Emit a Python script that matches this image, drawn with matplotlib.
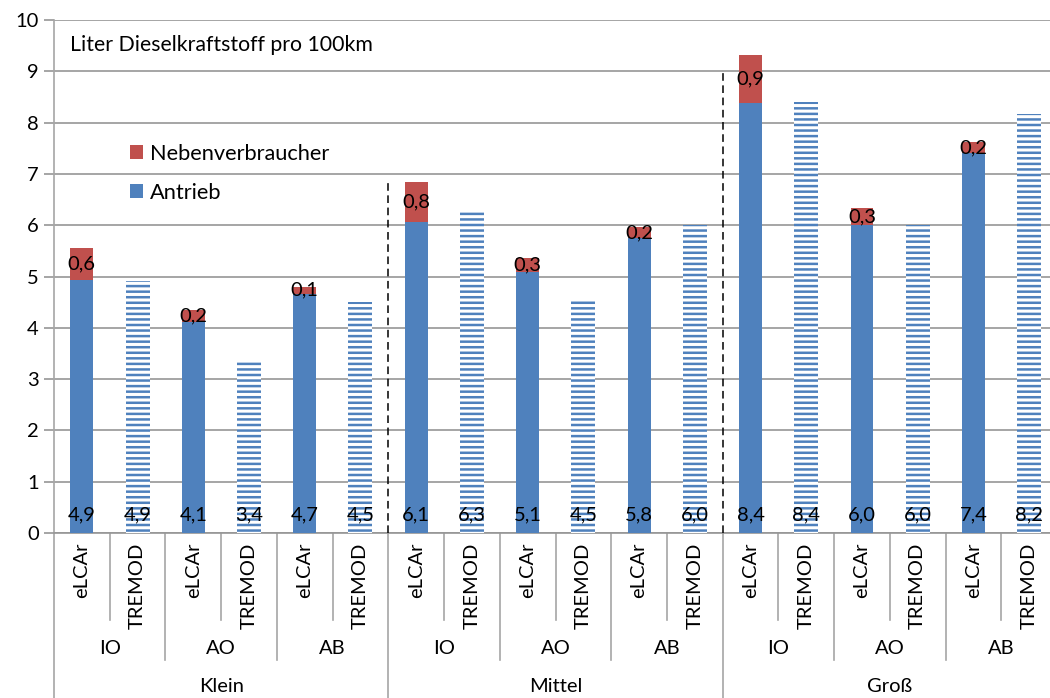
import matplotlib
matplotlib.use("Agg")
import matplotlib.pyplot as plt
from matplotlib.patches import Patch
from matplotlib.transforms import blended_transform_factory
import numpy as np

# ---- data ----
sizes = ['Klein', 'Mittel', 'Groß']
routes = ['IO', 'AO', 'AB']
models = ['eLCAr', 'TREMOD']
elcar_antrieb = [4.93, 4.11, 4.66, 6.06, 5.09, 5.76, 8.38, 6.00, 7.41]
elcar_neben = [0.63, 0.24, 0.14, 0.78, 0.27, 0.20, 0.94, 0.34, 0.21]
tremod_antrieb = [4.91, 3.37, 4.50, 6.30, 4.52, 6.00, 8.40, 6.00, 8.17]
yticks = [0, 1, 2, 3, 4, 5, 6, 7, 8, 9, 10]
title_text = 'Liter Dieselkraftstoff pro 100km'
legend_labels = ['Nebenverbraucher', 'Antrieb']
separator_tops = [6.9, 9.0]

BLUE = '#4F81BD'
RED = '#C0504D'
GRID = '#969696'
SEP = '#A6A6A6'
FONT = ['Lato', 'DejaVu Sans']

plt.rcParams['font.family'] = FONT
plt.rcParams['hatch.linewidth'] = 1.8

W, H = 1050, 698
fig = plt.figure(figsize=(W / 100, H / 100), dpi=100)
left_px, right_px, top_px, bottom_px = 54, 1057, 20, 533
ax = fig.add_axes([left_px / W, 1 - bottom_px / H,
                   (right_px - left_px) / W, (bottom_px - top_px) / H])

n_groups = len(elcar_antrieb)
x_el = np.arange(n_groups) * 2
x_tr = x_el + 1
bw = 0.41

ax.bar(x_el, elcar_antrieb, width=bw, color=BLUE, zorder=3)
ax.bar(x_el, elcar_neben, width=bw, bottom=elcar_antrieb, color=RED, zorder=3)
ax.bar(x_tr, tremod_antrieb, width=0.43, facecolor='white', edgecolor=BLUE,
       hatch='---', linewidth=0, zorder=3)

LBL = 14.5
fmt = lambda v: ('%.1f' % v).replace('.', ',')
for xe, xt, a, nb, t in zip(x_el, x_tr, elcar_antrieb, elcar_neben, tremod_antrieb):
    ax.text(xe, 0.35, fmt(a), ha='center', va='center', fontsize=LBL, zorder=5)
    ax.text(xt, 0.35, fmt(t), ha='center', va='center', fontsize=LBL, zorder=5)
    ax.text(xe, a + nb / 2, fmt(nb), ha='center', va='center', fontsize=LBL, zorder=5)

ax.set_xlim(-0.5, 2 * n_groups - 0.5)
ax.set_ylim(0, 10)
ax.set_yticks(yticks)
ax.set_yticklabels([str(v) for v in yticks], fontsize=14.5)
ax.yaxis.grid(True, color=GRID, linewidth=1.2, zorder=0)
ax.tick_params(axis='y', length=7, color=GRID, width=1.2, pad=4)
ax.set_xticks([])
for s in ['top', 'right']:
    ax.spines[s].set_visible(False)
ax.spines['left'].set_color(SEP)
ax.spines['left'].set_linewidth(1.2)
ax.spines['bottom'].set_color(GRID)
ax.spines['bottom'].set_linewidth(1.2)

# dashed separators between size classes
for i, top in enumerate(separator_tops):
    xs = (i + 1) * 6 - 0.5
    ax.plot([xs, xs], [0, top], color='black', linestyle=(0, (5, 3)), linewidth=1.1, zorder=4)

# multi-level category axis
trans = blended_transform_factory(ax.transData, ax.transAxes)
ax_h = bottom_px - top_px
yf = lambda px: -(px - bottom_px) / ax_h
for k in range(2 * n_groups + 1):
    xb = k - 0.5
    if k % 6 == 0:
        y_end = yf(H + 5)
    elif k % 2 == 0:
        y_end = yf(660)
    else:
        y_end = yf(620)
    ax.plot([xb, xb], [0, y_end], color=SEP, linewidth=1.2, transform=trans, clip_on=False)

for i in range(n_groups):
    for j, m in enumerate(models):
        ax.text(2 * i + j, yf(543), m, rotation=90, ha='center', va='top',
                fontsize=14.5, transform=trans)
    ax.text(2 * i + 0.5, yf(648), routes[i % 3], ha='center', va='center',
            fontsize=14.5, transform=trans)
for s, name in enumerate(sizes):
    ax.text(6 * s + 2.5, yf(686), name, ha='center', va='center',
            fontsize=14.5, transform=trans)

ax.text(70 / W, 1 - 45 / H, title_text, transform=fig.transFigure,
        ha='left', va='center', fontsize=15.3)

handles = [Patch(facecolor=RED), Patch(facecolor=BLUE)]
ax.legend(handles, legend_labels, loc='upper left',
          bbox_to_anchor=((130 - left_px) / (right_px - left_px), (bottom_px - 144) / ax_h),
          frameon=False, fontsize=15.7, handlelength=0.6, handleheight=0.6,
          handletextpad=0.3, labelspacing=0.85, borderpad=0, borderaxespad=0)

fig.savefig('out.png', dpi=100)
